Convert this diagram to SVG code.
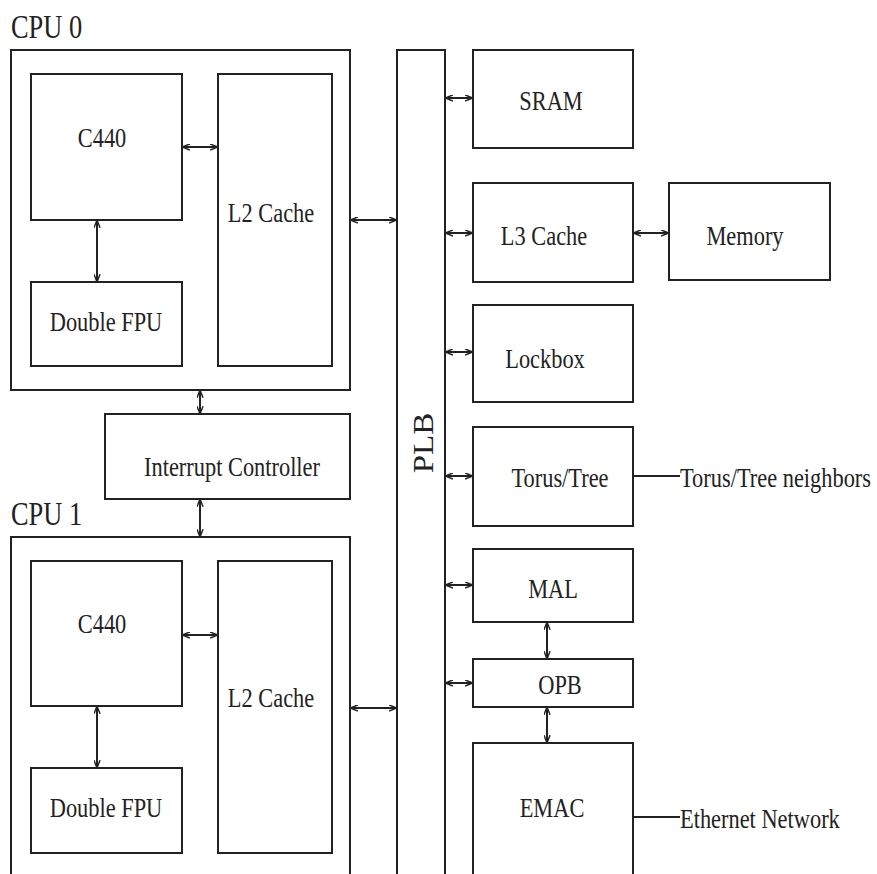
<svg xmlns="http://www.w3.org/2000/svg" width="877" height="874" viewBox="0 0 877 874">
<defs>
<marker id="ah" viewBox="0 0 10 8" refX="9" refY="4" markerWidth="9" markerHeight="7" markerUnits="userSpaceOnUse" orient="auto-start-reverse">
<path d="M0,0.5 L9,4 L0,7.5" fill="none" stroke="#222" stroke-width="1.6"/>
</marker>
<style>
rect{fill:#fff;stroke:#222;stroke-width:2}
.c line{stroke:#222;stroke-width:2;marker-start:url(#ah);marker-end:url(#ah)}
.c line.p{marker-start:none;marker-end:none}
text{font-family:"Liberation Serif","Times New Roman",serif;font-size:28px;fill:#222;text-anchor:middle}
.l{text-anchor:start}
</style>
</defs>
<rect x="0" y="0" width="877" height="874" style="stroke:none"/>
<g id="cpu0">
<text class="l" transform="translate(11,38) scale(0.8,1)" style="font-size:33px">CPU 0</text>
<rect x="11" y="50" width="339" height="340"/>
</g>
<g id="cpu0-c440"><rect x="31" y="74" width="151" height="146"/><text transform="translate(102,147) scale(0.8,1)">C440</text></g>
<g id="cpu0-l2"><rect x="218" y="74" width="114" height="292"/><text transform="translate(271,222) scale(0.8,1)">L2 Cache</text></g>
<g id="cpu0-fpu"><rect x="31" y="282" width="151" height="84"/><text transform="translate(106,331) scale(0.8,1)">Double FPU</text></g>
<g id="intctrl"><rect x="105" y="414" width="245" height="85"/><text transform="translate(232,476) scale(0.8,1)">Interrupt Controller</text></g>
<g id="cpu1">
<text class="l" transform="translate(11,525) scale(0.8,1)" style="font-size:33px">CPU 1</text>
<rect x="11" y="537" width="339" height="350"/>
</g>
<g id="cpu1-c440"><rect x="31" y="561" width="151" height="145"/><text transform="translate(102,633) scale(0.8,1)">C440</text></g>
<g id="cpu1-l2"><rect x="218" y="561" width="114" height="292"/><text transform="translate(271,707) scale(0.8,1)">L2 Cache</text></g>
<g id="cpu1-fpu"><rect x="31" y="768" width="151" height="85"/><text transform="translate(106,817) scale(0.8,1)">Double FPU</text></g>
<g id="plb"><rect x="397" y="50" width="48" height="840"/><text transform="translate(433,443) rotate(-90) scale(1.1,1)" style="font-size:30px">PLB</text></g>
<g id="sram"><rect x="473" y="50" width="160" height="98"/><text transform="translate(551,110) scale(0.8,1)">SRAM</text></g>
<g id="l3"><rect x="473" y="183" width="160" height="99"/><text transform="translate(544,245) scale(0.8,1)">L3 Cache</text></g>
<g id="memory"><rect x="669" y="183" width="161" height="97"/><text transform="translate(745,245) scale(0.8,1)">Memory</text></g>
<g id="lockbox"><rect x="473" y="305" width="160" height="97"/><text transform="translate(545,368) scale(0.8,1)">Lockbox</text></g>
<g id="torus"><rect x="473" y="427" width="160" height="99"/><text transform="translate(560,487) scale(0.8,1)">Torus/Tree</text></g>
<g id="mal"><rect x="473" y="549" width="160" height="73"/><text transform="translate(553,598) scale(0.8,1)">MAL</text></g>
<g id="opb"><rect x="473" y="659" width="160" height="48"/><text transform="translate(560,694) scale(0.8,1)">OPB</text></g>
<g id="emac"><rect x="473" y="743" width="160" height="150"/><text transform="translate(552,817) scale(0.8,1)">EMAC</text></g>
<g id="labels">
<text class="l" transform="translate(680,487) scale(0.8,1)">Torus/Tree neighbors</text>
<text class="l" transform="translate(680,828) scale(0.8,1)">Ethernet Network</text>
</g>
<g id="connectors" class="c">
<line x1="182" y1="147" x2="218" y2="147"/>
<line x1="97" y1="220" x2="97" y2="282"/>
<line x1="350" y1="220" x2="397" y2="220"/>
<line x1="200" y1="390" x2="200" y2="414"/>
<line x1="200" y1="499" x2="200" y2="537"/>
<line x1="182" y1="635" x2="218" y2="635"/>
<line x1="97" y1="706" x2="97" y2="768"/>
<line x1="350" y1="708" x2="397" y2="708"/>
<line x1="445" y1="98" x2="473" y2="98"/>
<line x1="445" y1="233" x2="473" y2="233"/>
<line x1="633" y1="233" x2="669" y2="233"/>
<line x1="445" y1="352" x2="473" y2="352"/>
<line x1="445" y1="476" x2="473" y2="476"/>
<line x1="445" y1="585" x2="473" y2="585"/>
<line x1="445" y1="683" x2="473" y2="683"/>
<line x1="547" y1="622" x2="547" y2="659"/>
<line x1="547" y1="707" x2="547" y2="743"/>
<line class="p" x1="633" y1="476" x2="680" y2="476"/>
<line class="p" x1="633" y1="817" x2="680" y2="817"/>
</g>
</svg>
